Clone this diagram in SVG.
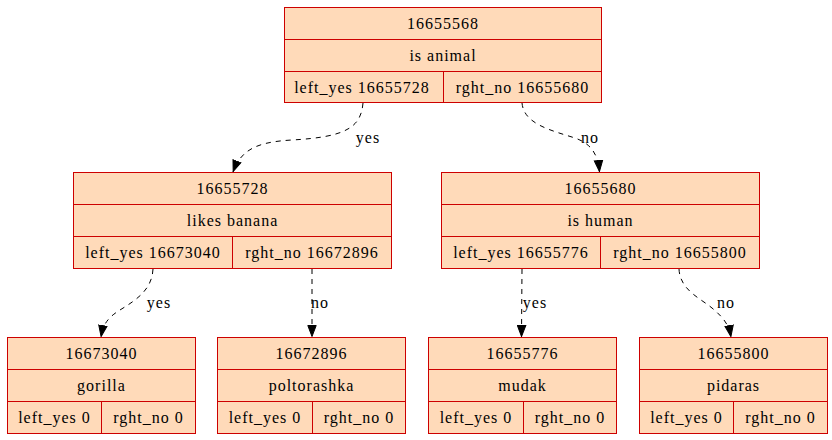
<svg xmlns="http://www.w3.org/2000/svg" width="832" height="440" viewBox="0 0 832 440">
<style>
.box{fill:#ffdab9;stroke:#cd0000;stroke-width:1}
.ln{stroke:#cd0000;stroke-width:1;fill:none}
text{font-family:"Liberation Serif";font-size:16px;letter-spacing:1px;fill:#000;text-anchor:middle}
.e{fill:none;stroke:#000;stroke-width:1;stroke-dasharray:5,5}
</style>
<defs>
<marker id="ah" viewBox="0 0 12 10" refX="12" refY="5" markerWidth="12" markerHeight="10" markerUnits="userSpaceOnUse" orient="auto">
<path d="M0.5,0.8 L11.5,5 L0.5,9.2 Z" fill="#000" stroke="#000"/>
</marker>
</defs>
<rect width="832" height="440" fill="#fff"/>
<g id="connectors">
<path class="e" marker-end="url(#ah)" d="M363,103 C361,128 345,137 292,140 C256,142 241,150 233,172"/>
<text x="368" y="143">yes</text>
<path class="e" marker-end="url(#ah)" d="M522,103 C524,124 550,130 575,138 C592,144 598,155 599.5,172"/>
<text x="590" y="143">no</text>
<path class="e" marker-end="url(#ah)" d="M153,269 C152,290 136,300 120,310 C107,318 103,325 101,337"/>
<text x="159" y="308">yes</text>
<path class="e" marker-end="url(#ah)" d="M312,269 L312,337"/>
<text x="320" y="308">no</text>
<path class="e" marker-end="url(#ah)" d="M522,269 L521.5,337"/>
<text x="535" y="308">yes</text>
<path class="e" marker-end="url(#ah)" d="M679,269 C680,290 700,298 712,308 C724,318 729,325 731,337"/>
<text x="726" y="308">no</text>
</g>
<g id="n16655568">
<rect class="box" x="284.5" y="7.5" width="317" height="95"/>
<path class="ln" d="M284.5,39.5 H601.5 M284.5,71.5 H601.5 M443.5,71.5 V102.5"/>
<text x="443" y="28.5">16655568</text>
<text x="443" y="60.5">is animal</text>
<text x="362" y="92.5">left_yes 16655728</text>
<text x="522.5" y="92.5">rght_no 16655680</text>
</g>
<g id="n16655728">
<rect class="box" x="73.5" y="172.5" width="318" height="96"/>
<path class="ln" d="M73.5,204.5 H391.5 M73.5,236.5 H391.5 M232.5,236.5 V268.5"/>
<text x="232.5" y="193.5">16655728</text>
<text x="232.5" y="225.5">likes banana</text>
<text x="153" y="257.5">left_yes 16673040</text>
<text x="312" y="257.5">rght_no 16672896</text>
</g>
<g id="n16655680">
<rect class="box" x="441.5" y="172.5" width="318" height="96"/>
<path class="ln" d="M441.5,204.5 H759.5 M441.5,236.5 H759.5 M600.5,236.5 V268.5"/>
<text x="600.5" y="193.5">16655680</text>
<text x="600.5" y="225.5">is human</text>
<text x="521" y="257.5">left_yes 16655776</text>
<text x="680" y="257.5">rght_no 16655800</text>
</g>
<g id="n16673040">
<rect class="box" x="7.5" y="337.5" width="188" height="96"/>
<path class="ln" d="M7.5,369.5 H195.5 M7.5,401.5 H195.5 M101.5,401.5 V433.5"/>
<text x="101.5" y="358.5">16673040</text>
<text x="101.5" y="390.5">gorilla</text>
<text x="54.5" y="422.5">left_yes 0</text>
<text x="148.5" y="422.5">rght_no 0</text>
</g>
<g id="n16672896">
<rect class="box" x="217.5" y="337.5" width="188" height="96"/>
<path class="ln" d="M217.5,369.5 H405.5 M217.5,401.5 H405.5 M312.5,401.5 V433.5"/>
<text x="311.5" y="358.5">16672896</text>
<text x="311.5" y="390.5">poltorashka</text>
<text x="265" y="422.5">left_yes 0</text>
<text x="359" y="422.5">rght_no 0</text>
</g>
<g id="n16655776">
<rect class="box" x="428.5" y="337.5" width="188" height="96"/>
<path class="ln" d="M428.5,369.5 H616.5 M428.5,401.5 H616.5 M523.5,401.5 V433.5"/>
<text x="522.5" y="358.5">16655776</text>
<text x="522.5" y="390.5">mudak</text>
<text x="476" y="422.5">left_yes 0</text>
<text x="570" y="422.5">rght_no 0</text>
</g>
<g id="n16655800">
<rect class="box" x="639.5" y="337.5" width="188" height="96"/>
<path class="ln" d="M639.5,369.5 H827.5 M639.5,401.5 H827.5 M733.5,401.5 V433.5"/>
<text x="733.5" y="358.5">16655800</text>
<text x="733.5" y="390.5">pidaras</text>
<text x="686.5" y="422.5">left_yes 0</text>
<text x="780.5" y="422.5">rght_no 0</text>
</g>
</svg>
